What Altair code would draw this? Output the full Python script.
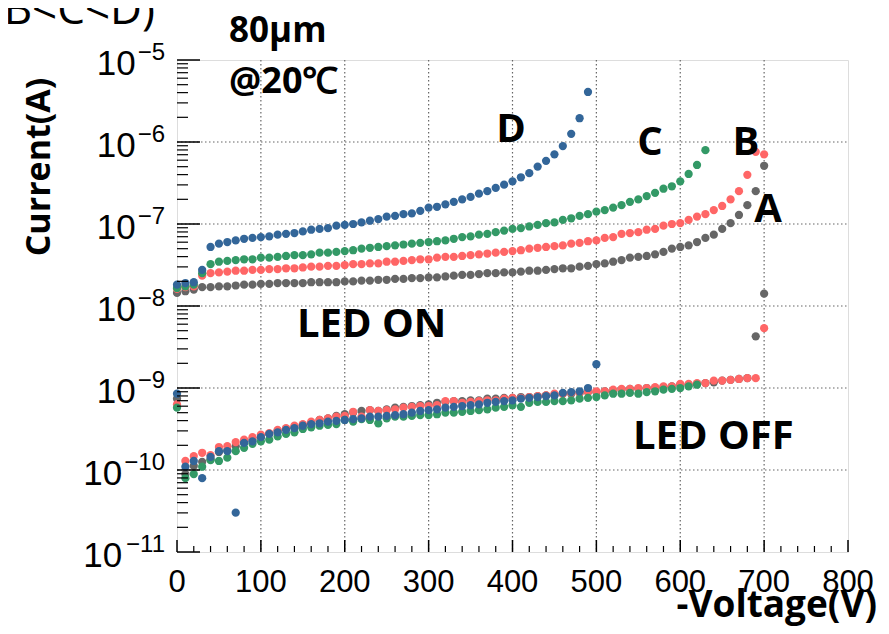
import altair as alt
import pandas as pd

# ---------------- data (log10 of current in A), voltage step 10 V from 0 V ----------------
step_v = 10

a_on_log10 = [-7.84, -7.82, -7.80, -7.77, -7.77, -7.76, -7.76, -7.75, -7.74, -7.74,
              -7.73, -7.73, -7.72, -7.72, -7.72, -7.72, -7.71, -7.71, -7.71, -7.71,
              -7.70, -7.70, -7.69, -7.69, -7.68, -7.68, -7.67, -7.67, -7.66, -7.66,
              -7.65, -7.65, -7.64, -7.63, -7.62, -7.62, -7.61, -7.60, -7.60, -7.59,
              -7.59, -7.58, -7.57, -7.57, -7.56, -7.55, -7.54, -7.54, -7.52, -7.51,
              -7.49, -7.48, -7.46, -7.44, -7.41, -7.40, -7.39, -7.37, -7.34, -7.30,
              -7.28, -7.26, -7.22, -7.17, -7.13, -7.06, -6.99, -6.89, -6.77, -6.60,
              -6.29]
b_on_log10 = [-7.79, -7.77, -7.76, -7.63, -7.60, -7.59, -7.58, -7.57, -7.57, -7.56,
              -7.56, -7.55, -7.55, -7.54, -7.54, -7.53, -7.52, -7.52, -7.51, -7.51,
              -7.50, -7.49, -7.49, -7.48, -7.48, -7.46, -7.46, -7.45, -7.44, -7.43,
              -7.43, -7.41, -7.40, -7.40, -7.39, -7.38, -7.37, -7.36, -7.35, -7.34,
              -7.33, -7.32, -7.30, -7.29, -7.28, -7.27, -7.26, -7.24, -7.23, -7.21,
              -7.20, -7.17, -7.16, -7.12, -7.11, -7.10, -7.07, -7.06, -7.02, -7.00,
              -6.99, -6.95, -6.91, -6.88, -6.83, -6.78, -6.70, -6.60, -6.40, -6.12,
              -6.15]
c_on_log10 = [-7.78, -7.76, -7.74, -7.60, -7.49, -7.46, -7.45, -7.44, -7.43, -7.43,
              -7.41, -7.41, -7.40, -7.39, -7.38, -7.38, -7.37, -7.35, -7.35, -7.34,
              -7.33, -7.32, -7.30, -7.29, -7.28, -7.27, -7.26, -7.25, -7.24, -7.23,
              -7.22, -7.21, -7.20, -7.18, -7.16, -7.15, -7.13, -7.12, -7.10, -7.08,
              -7.06, -7.05, -7.03, -7.01, -6.99, -6.98, -6.95, -6.93, -6.90, -6.88,
              -6.85, -6.83, -6.80, -6.77, -6.73, -6.70, -6.66, -6.62, -6.57, -6.54,
              -6.48, -6.39, -6.28, -6.10]
d_on_log10 = [-7.74, -7.72, -7.71, -7.56, -7.28, -7.24, -7.22, -7.20, -7.18, -7.17,
              -7.16, -7.15, -7.13, -7.12, -7.11, -7.09, -7.07, -7.06, -7.05, -7.02,
              -7.01, -7.00, -6.98, -6.96, -6.94, -6.91, -6.90, -6.88, -6.87, -6.84,
              -6.80, -6.79, -6.76, -6.73, -6.70, -6.67, -6.63, -6.60, -6.56, -6.52,
              -6.48, -6.43, -6.38, -6.30, -6.23, -6.15, -6.05, -5.90, -5.71, -5.39]

a_off_log10 = [-9.13, -10.05, -9.95, -9.90, -9.87, -9.78, -9.76, -9.71, -9.67, -9.63,
               -9.60, -9.56, -9.52, -9.50, -9.48, -9.45, -9.43, -9.39, -9.37, -9.34,
               -9.32, -9.30, -9.28, -9.27, -9.28, -9.26, -9.24, -9.23, -9.22, -9.21,
               -9.20, -9.18, -9.17, -9.16, -9.16, -9.15, -9.15, -9.13, -9.13, -9.12,
               -9.12, -9.11, -9.11, -9.10, -9.09, -9.09, -9.07, -9.07, -9.06, -9.05,
               -9.05, -9.04, -9.04, -9.02, -9.01, -9.01, -9.00, -9.00, -8.99, -8.98,
               -8.96, -8.96, -8.95, -8.94, -8.93, -8.91, -8.90, -8.89, -8.88, -8.37,
               -7.85]
b_off_log10 = [-9.20, -9.89, -9.83, -9.79, -9.82, -9.72, -9.71, -9.66, -9.63, -9.60,
               -9.57, -9.55, -9.51, -9.49, -9.46, -9.44, -9.41, -9.39, -9.37, -9.35,
               -9.34, -9.29, -9.35, -9.27, -9.28, -9.27, -9.26, -9.24, -9.23, -9.22,
               -9.22, -9.21, -9.16, -9.16, -9.18, -9.17, -9.16, -9.15, -9.15, -9.13,
               -9.12, -9.12, -9.11, -9.10, -9.09, -9.07, -9.07, -9.06, -9.06, -9.05,
               -9.04, -9.04, -9.02, -9.01, -9.01, -9.00, -9.00, -8.99, -8.98, -8.98,
               -8.95, -8.95, -8.94, -8.94, -8.91, -8.91, -8.90, -8.89, -8.88, -8.88,
               -8.27]
c_off_log10 = [-9.24, -10.10, -10.05, -9.96, -9.88, -9.89, -9.85, -9.77, -9.73, -9.68,
               -9.65, -9.63, -9.59, -9.56, -9.54, -9.50, -9.48, -9.46, -9.45, -9.44,
               -9.39, -9.41, -9.38, -9.39, -9.43, -9.37, -9.35, -9.35, -9.34, -9.33,
               -9.33, -9.32, -9.30, -9.30, -9.29, -9.28, -9.27, -9.26, -9.24, -9.23,
               -9.21, -9.23, -9.18, -9.17, -9.17, -9.16, -9.16, -9.15, -9.13, -9.12,
               -9.11, -9.09, -9.07, -9.07, -9.06, -9.07, -9.05, -9.04, -9.02, -9.01,
               -9.00, -8.98, -8.96]
d_off_log10 = [-9.07, -9.96, -9.89, -10.10, -9.84, -9.77, -9.77, -10.52, -9.67, -9.65,
               -9.60, -9.56, -9.54, -9.51, -9.49, -9.46, -9.44, -9.43, -9.41, -9.40,
               -9.39, -9.38, -9.37, -9.35, -9.35, -9.34, -9.33, -9.32, -9.30, -9.28,
               -9.27, -9.26, -9.24, -9.23, -9.22, -9.21, -9.20, -9.18, -9.17, -9.16,
               -9.15, -9.13, -9.12, -9.11, -9.10, -9.09, -9.06, -9.05, -9.04, -9.00,
               -8.71]

devices = ["A", "B", "C", "D"]
device_colors = ["#666666", "#ff6666", "#339966", "#336699"]

x_ticks_major = [0, 100, 200, 300, 400, 500, 600, 700, 800]
x_tick_labels = ["0", "100", "200", "300", "400", "500", "600", "700", "800"]
y_decades = [-11, -10, -9, -8, -7, -6, -5]

# ---------------- build table ----------------
series = [("A", "ON", a_on_log10), ("A", "OFF", a_off_log10),
          ("B", "ON", b_on_log10), ("B", "OFF", b_off_log10),
          ("C", "ON", c_on_log10), ("C", "OFF", c_off_log10),
          ("D", "ON", d_on_log10), ("D", "OFF", d_off_log10)]
rows = []
k = 0
for dev, state, vals in series:
    for i, v in enumerate(vals):
        rows.append({"V": i * step_v, "I": 10 ** v, "dev": dev, "state": state, "ord": k})
        k += 1
df = pd.DataFrame(rows)

W, H = 671, 492
xs = alt.Scale(domain=[0, 800], nice=False, zero=False)
ys = alt.Scale(type="log", domain=[1e-11, 1e-5], nice=False)

# ---------------- dotted grid ----------------
grid_x = alt.Chart(pd.DataFrame({"v": x_ticks_major[1:-1]})).mark_rule(
    color="#666666", strokeWidth=1.2, strokeDash=[1.5, 2.5]).encode(
    x=alt.X("v:Q", scale=xs, axis=None), y=alt.value(0), y2=alt.value(H))
grid_y = alt.Chart(pd.DataFrame({"v": [10.0 ** e for e in y_decades[1:-1]]})).mark_rule(
    color="#666666", strokeWidth=1.2, strokeDash=[1.5, 2.5]).encode(
    y=alt.Y("v:Q", scale=ys, axis=None), x=alt.value(0), x2=alt.value(W))

points = alt.Chart(df).mark_circle(size=68, opacity=1).encode(
    x=alt.X("V:Q", scale=xs, axis=None),
    y=alt.Y("I:Q", scale=ys, axis=None),
    color=alt.Color("dev:N", scale=alt.Scale(domain=devices, range=device_colors), legend=None),
    order=alt.Order("ord:Q"),
)

# ---------------- ROOT-style inward ticks ----------------
x_minor = [v for v in range(0, 801, 20) if v % 100 != 0]
y_minor = [m * 10.0 ** e for e in y_decades[:-1] for m in range(2, 10)]

xt_major = alt.Chart(pd.DataFrame({"v": x_ticks_major})).mark_rule(color="black", strokeWidth=1.5).encode(
    x=alt.X("v:Q", scale=xs, axis=None), y=alt.value(H), y2=alt.value(H - 12))
xt_minor = alt.Chart(pd.DataFrame({"v": x_minor})).mark_rule(color="black", strokeWidth=1.2).encode(
    x=alt.X("v:Q", scale=xs, axis=None), y=alt.value(H), y2=alt.value(H - 6))
yt_major = alt.Chart(pd.DataFrame({"v": [10.0 ** e for e in y_decades]})).mark_rule(color="black", strokeWidth=1.5).encode(
    y=alt.Y("v:Q", scale=ys, axis=None), x=alt.value(0), x2=alt.value(23))
yt_minor = alt.Chart(pd.DataFrame({"v": y_minor})).mark_rule(color="black", strokeWidth=1.2).encode(
    y=alt.Y("v:Q", scale=ys, axis=None), x=alt.value(0), x2=alt.value(11))

# ---------------- x tick labels ----------------
xlab = alt.Chart(pd.DataFrame({"v": x_ticks_major, "t": x_tick_labels})).mark_text(
    font="Liberation Sans", fontSize=31, align="center", baseline="alphabetic",
    color="black").encode(
    x=alt.X("v:Q", scale=xs, axis=None), y=alt.value(H + 40), text="t:N")

# ---------------- y tick labels as 10 with superscript exponent ----------------
exp_font = 24
lab_rows = []
for e in y_decades:
    s = "\u2212" + str(-e)
    w = exp_font * (0.584 + 0.556 * len(str(-e)))
    lab_rows.append({"v": 10.0 ** e, "exp": s, "xe": -12, "xb": -12 - w - 2})
lab_df = pd.DataFrame(lab_rows)

ylab_base = alt.Chart(lab_df).mark_text(
    text="10", font="Liberation Sans", fontSize=35, align="right", baseline="alphabetic",
    dy=15, color="black").encode(
    y=alt.Y("v:Q", scale=ys, axis=None), x=alt.X("xb:Q", scale=None))
ylab_exp = alt.Chart(lab_df).mark_text(
    font="Liberation Sans", fontSize=exp_font, align="right", baseline="alphabetic",
    dy=0, color="black").encode(
    y=alt.Y("v:Q", scale=ys, axis=None), x=alt.X("xe:Q", scale=None), text="exp:N")


# ---------------- annotations ----------------
def label(txt, x, y, size, bold=True, align="left", angle=0, font="Open Sans"):
    return alt.Chart(pd.DataFrame({"t": [txt]})).mark_text(
        font=font, fontSize=size, fontWeight="bold" if bold else "normal",
        align=align, baseline="alphabetic", angle=angle, color="black").encode(
        text="t:N", x=alt.value(x), y=alt.value(y))


annotations = [
    label("(A<B<C<D)", -22, -36, 44, bold=False, align="right"),
    label("80µm", 52, -18, 35),
    label("@20\u2103", 52, 33, 36),
    label("D", 334, 82, 40, align="center"),
    label("C", 473, 95, 40, align="center"),
    label("B", 569, 95, 40, align="center"),
    label("A", 591, 162, 40, align="center"),
    label("LED ON", 120, 277, 40),
    label("LED OFF", 456, 389, 40),
    label("Current(A)", -127, 107, 34, align="center", angle=270),
    label("-Voltage(V)", 700, 557, 37, align="right"),
]

chart = alt.layer(
    grid_x, grid_y, points, xt_major, xt_minor, yt_major, yt_minor,
    xlab, ylab_base, ylab_exp, *annotations
).properties(
    width=W, height=H,
    autosize=alt.AutoSizeParams(type="none"),
    padding={"left": 169, "top": 52, "right": 33, "bottom": 74},
).configure_view(
    stroke="black", strokeWidth=2
).configure(background="white")

chart.save("out.html", embed_options={"renderer": "svg", "actions": False})
